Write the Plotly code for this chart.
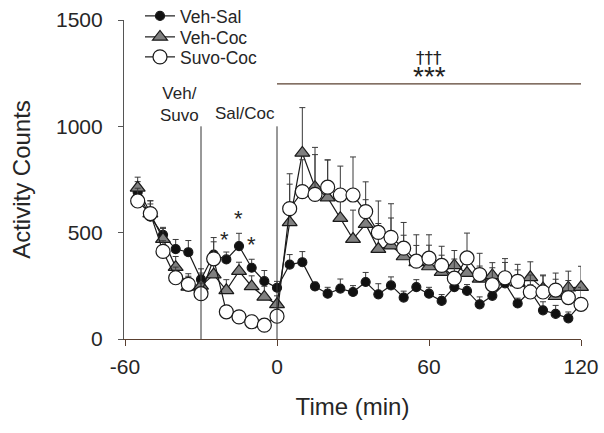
import plotly.graph_objects as go

time_min = [-55, -50, -45, -40, -35, -30, -25, -20, -15, -10, -5, 0,
            5, 10, 15, 20, 25, 30, 35, 40, 45, 50, 55, 60,
            65, 70, 75, 80, 85, 90, 95, 100, 105, 110, 115, 120]

veh_sal = [690, 575, 490, 423, 408, 280, 397, 374, 437, 335, 272, 241,
           350, 361, 247, 213, 237, 221, 268, 210, 252, 195, 244, 213,
           179, 244, 226, 163, 203, 262, 167, 225, 135, 118, 97, 165]
veh_sal_err = [50, 60, 35, 45, 55, 50, 60, 35, 60, 40, 50, 30,
               47, 50, 20, 30, 45, 30, 45, 50, 40, 30, 35, 30,
               30, 30, 30, 35, 30, 30, 25, 30, 40, 40, 30, 30]

veh_coc = [711, 590, 470, 338, 245, 250, 303, 229, 319, 247, 198, 163,
           548, 875, 714, 665, 568, 470, 540, 423, 439, 388, 360, 341,
           314, 346, 310, 283, 299, 290, 265, 290, 237, 201, 241, 244]
veh_coc_err = [50, 60, 50, 50, 50, 60, 80, 50, 42, 50, 50, 40,
               180, 213, 187, 177, 120, 136, 115, 120, 130, 100, 80, 100,
               80, 70, 70, 60, 60, 70, 60, 73, 60, 80, 78, 98]

suvo_coc = [649, 590, 412, 288, 257, 213, 377, 128, 104, 81, 65, 107,
            613, 693, 680, 714, 677, 677, 599, 501, 478, 427, 366, 380,
            346, 286, 381, 303, 255, 288, 271, 221, 221, 230, 195, 163]
suvo_coc_err = [60, 60, 50, 50, 50, 50, 100, 30, 30, 30, 30, 40,
                164, 150, 187, 128, 136, 179, 140, 148, 158, 121, 124, 110,
                90, 90, 117, 100, 80, 90, 80, 80, 80, 80, 80, 80]

series_names = ["Veh-Sal", "Veh-Coc", "Suvo-Coc"]
y_ticks = [0, 500, 1000, 1500]
x_ticks = [-60, 0, 60, 120]

FONT = "Liberation Sans, Arial, sans-serif"
TXT = "#262626"

fig = go.Figure()

def add_series(name, vals, errs, symbol, size, fill, legend):
    fig.add_trace(go.Scatter(
        x=time_min, y=vals, name=name, mode="lines+markers",
        line=dict(color="#1a1a1a", width=1.2),
        marker=dict(symbol=symbol, size=size, color=fill,
                    line=dict(color="#1a1a1a", width=1.2)),
        error_y=dict(type="data", symmetric=False, array=errs,
                     arrayminus=[0] * len(errs), color="#3a3a3a",
                     thickness=1, width=3),
        cliponaxis=False, legend=legend,
    ))

add_series(series_names[0], veh_sal, veh_sal_err, "circle", 9, "#111111", "legend")
add_series(series_names[1], veh_coc, veh_coc_err, "triangle-up", 13, "#808080", "legend2")
add_series(series_names[2], suvo_coc, suvo_coc_err, "circle", 14, "#ffffff", "legend3")

# vertical event lines
fig.add_shape(type="line", x0=-30, x1=-30, y0=0, y1=1000, xref="x", yref="y",
              line=dict(color="#333333", width=1))
fig.add_shape(type="line", x0=0, x1=0, y0=0, y1=1000, xref="x", yref="y",
              line=dict(color="#333333", width=1))
# significance bar
fig.add_shape(type="line", x0=0, x1=120, y0=1200, y1=1200, xref="x", yref="y",
              line=dict(color="#5a4030", width=1.2))

fig.add_annotation(x=-38.5, y=1104, text="Veh/<br>Suvo", showarrow=False,
                   font=dict(family=FONT, size=17, color=TXT), align="center")
fig.add_annotation(x=-12.5, y=1060, text="Sal/Coc", showarrow=False,
                   font=dict(family=FONT, size=17, color=TXT))
fig.add_annotation(x=60, y=1322, text="†††", showarrow=False,
                   font=dict(family="DejaVu Sans", size=17, color="#222222"))
fig.add_annotation(x=60, y=1232, text="***", showarrow=False,
                   font=dict(family="Liberation Sans", size=28, color="#222222"))
for xs, ys in [(-20.8, 470), (-15.3, 565), (-10, 445)]:
    fig.add_annotation(x=xs, y=ys, text="*", showarrow=False,
                       font=dict(family=FONT, size=22, color=TXT))

leg_common = dict(x=0.035, xanchor="left", yanchor="middle",
                  bgcolor="rgba(0,0,0,0)", itemwidth=30,
                  font=dict(family=FONT, size=17.5, color=TXT))

fig.update_layout(
    width=604, height=433,
    margin=dict(l=124, r=23, t=20, b=94, autoexpand=False),
    paper_bgcolor="white", plot_bgcolor="white",
    font=dict(family=FONT, color=TXT),
    showlegend=True,
    legend=dict(y=(339 - 16) / 319, **leg_common),
    legend2=dict(y=(339 - 37) / 319, **leg_common),
    legend3=dict(y=(339 - 57) / 319, **leg_common),
    xaxis=dict(range=[-60.4, 120], tickvals=x_ticks,
               ticktext=[str(v) for v in x_ticks],
               showgrid=False, zeroline=False, showline=True,
               linecolor="#5a4030", linewidth=1.2,
               ticks="outside", ticklen=6, tickcolor="#5a4030",
               ticklabelstandoff=3,
               tickfont=dict(family=FONT, size=21, color=TXT),
               title=dict(text="Time (min)", font=dict(family=FONT, size=24, color=TXT),
                          standoff=20)),
    yaxis=dict(range=[0, 1500], tickvals=y_ticks,
               showgrid=False, zeroline=False, showline=True,
               linecolor="#555555", linewidth=1.2,
               ticks="outside", ticklen=5, tickcolor="#555555",
               ticklabelstandoff=11,
               tickfont=dict(family=FONT, size=21, color=TXT),
               title=dict(text="Activity Counts", font=dict(family=FONT, size=24, color=TXT),
                          standoff=18)),
)

fig.write_html("out.html", config={"displayModeBar": False},
               post_script="document.body.style.margin='0';")
